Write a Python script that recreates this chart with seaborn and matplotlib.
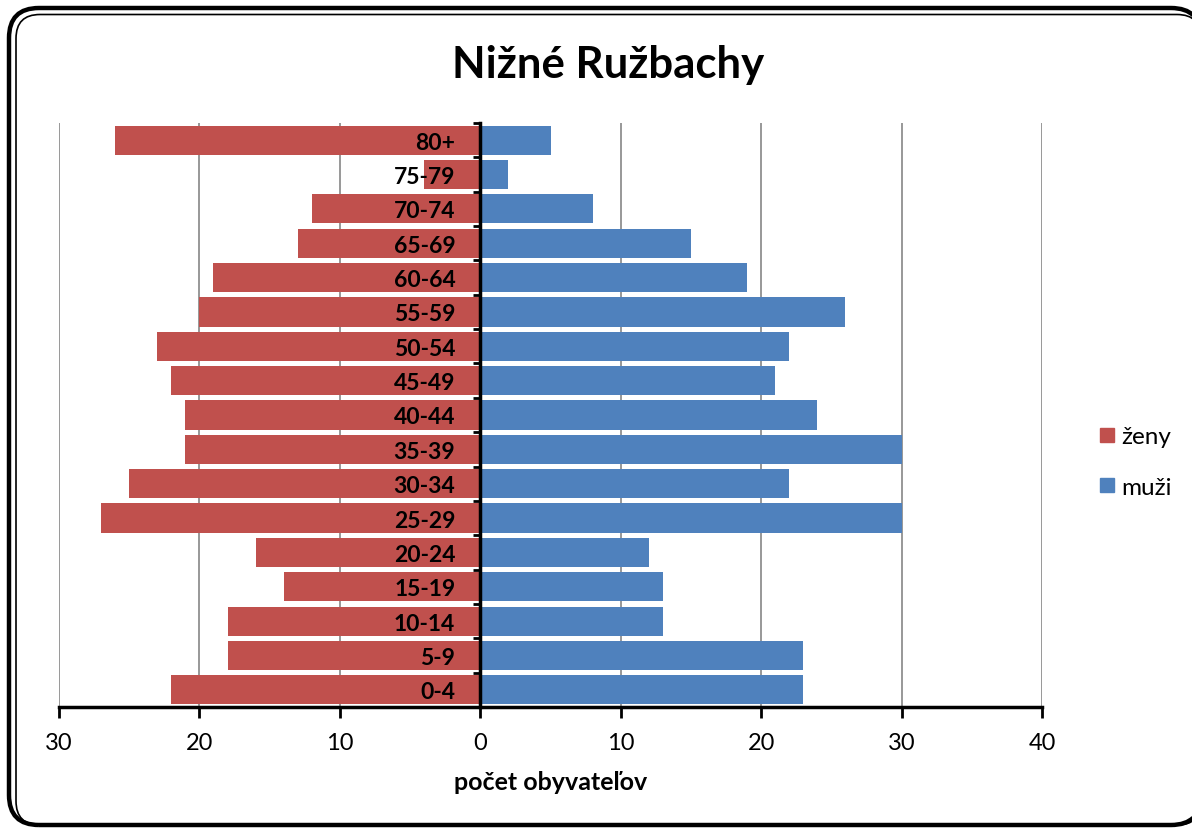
import pandas
import seaborn
import matplotlib
matplotlib.use("Agg")
import matplotlib.pyplot as plt
from matplotlib.patches import FancyBboxPatch, Polygon
from matplotlib.lines import Line2D
from matplotlib.transforms import IdentityTransform

seaborn.set_style("white")
plt.rcParams['font.family'] = ['Lato', 'DejaVu Sans']
plt.rcParams['text.color'] = 'black'
plt.rcParams['xtick.color'] = 'black'
plt.rcParams['ytick.color'] = 'black'
plt.rcParams['axes.labelcolor'] = 'black'

# age groups, top of the pyramid first
vek = ['80+', '75-79', '70-74', '65-69', '60-64', '55-59', '50-54', '45-49',
       '40-44', '35-39', '30-34', '25-29', '20-24', '15-19', '10-14', '5-9', '0-4']
zeny = [26, 4, 12, 13, 19, 20, 23, 22, 21, 21, 25, 27, 16, 14, 18, 18, 22]
muzi = [5, 2, 8, 15, 19, 26, 22, 21, 24, 30, 22, 30, 12, 13, 13, 23, 23]
x_ticks = [-30, -20, -10, 0, 10, 20, 30, 40]

df = pandas.DataFrame({'vek': vek, 'zeny': [-v for v in zeny], 'muzi': muzi})

red = '#C0504D'
blue = '#4F81BD'

fig = plt.figure(figsize=(11.92, 8.29), dpi=100)
ax = fig.add_axes([59/1192, 1 - 708/829, (1042 - 59)/1192, (708 - 124)/829])

seaborn.barplot(data=df, x='zeny', y='vek', order=vek, color=red, width=0.85,
                linewidth=0, saturation=1, ax=ax, orient='h')
seaborn.barplot(data=df, x='muzi', y='vek', order=vek, color=blue, width=0.85,
                linewidth=0, saturation=1, ax=ax, orient='h')
ax.set_axisbelow(False)

ax.set_xlim(-30, 40)
ax.set_ylim(len(vek) - 0.5, -0.5)
ax.set_xticks(x_ticks)
ax.set_xticklabels([str(abs(t)) for t in x_ticks], fontsize=17)
for t in x_ticks:
    if t != 0:
        ax.axvline(t, color='#868686', lw=1.2, zorder=0)

for s in ['top', 'right']:
    ax.spines[s].set_visible(False)
ax.spines['left'].set_position(('data', 0))
ax.spines['left'].set_linewidth(2.5)
ax.spines['left'].set_color('black')
ax.spines['left'].set_zorder(5)
ax.spines['bottom'].set_linewidth(2.5)
ax.spines['bottom'].set_color('black')

ax.tick_params(axis='x', direction='out', length=8, width=2, color='black', pad=10, bottom=True)
ax.tick_params(axis='y', which='major', length=0, pad=18)
ax.set_yticks([i + 0.5 for i in range(-1, len(vek))], minor=True)
ax.tick_params(axis='y', which='minor', direction='out', length=5, width=2, color='black', left=True)
for lab in ax.get_yticklabels():
    lab.set_fontweight('bold')
    lab.set_fontsize(16.5)

ax.set_ylabel('')
ax.set_xlabel('počet obyvateľov', fontsize=18, fontweight='bold', labelpad=12)

fig.text(608/1192, 1 - 65/829, 'Nižné Ružbachy', ha='center', va='center',
         fontsize=31.5, fontweight='bold')

handles = [Line2D([], [], marker='s', linestyle='none', markersize=10, color=red),
           Line2D([], [], marker='s', linestyle='none', markersize=10, color=blue)]
fig.legend(handles, ['ženy', 'muži'], loc='center left', bbox_to_anchor=(1073/1192, 1 - 463/829),
           frameon=False, fontsize=17.5, handletextpad=0.1, labelspacing=1.2, handlelength=1.0)


def frame(x, y, w, h, r, lw):
    # rounded box turned into a plain polygon, so the part past the
    # picture edge is clipped cleanly (pixels, origin bottom left)
    box = FancyBboxPatch((x, y), w, h, boxstyle='round,pad=0,rounding_size=%g' % r)
    verts = box.get_path().to_polygons(closed_only=False)[0]
    fig.patches.append(Polygon(verts, closed=True, fill=False, lw=lw, ec='black',
                               transform=IdentityTransform(), clip_on=False))


frame(9, 3, 1192, 817, 30, 3.2)
frame(16, 3, 1185, 810.5, 24, 1.2)

fig.savefig('out.png', dpi=100)
